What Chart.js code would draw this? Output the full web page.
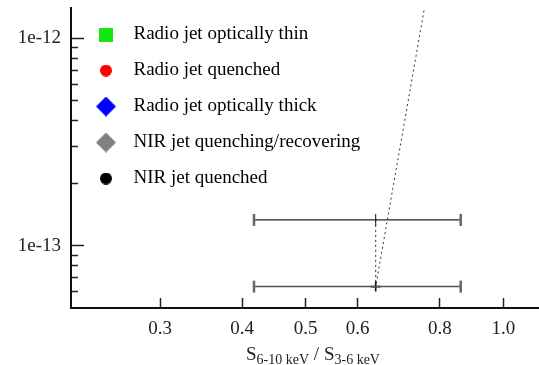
<!DOCTYPE html>
<html lang="en">
<head>
<meta charset="UTF-8">
<title>Hardness ratio vs flux</title>
<script src="https://cdn.jsdelivr.net/npm/chart.js"></script>
<style>
    body { margin: 0; background: #fff; }
    #wrap { position: relative; width: 539px; height: 365px; }
    #xTitle {
        position: absolute;
        left: 313px;
        top: 344px;
        transform: translateX(-50%);
        font: 19px "Liberation Serif", "Times New Roman", serif;
        line-height: 1;
        color: #222;
        white-space: nowrap;
    }
    #xTitle sub { font-size: 14px; vertical-align: -4px; line-height: 0; }
</style>
</head>
<body>
<div id="wrap">
    <canvas id="ratioChart"></canvas>
    <div id="xTitle">S<sub>6-10 keV</sub> / S<sub>3-6 keV</sub></div>
</div>

<script>
// hardness ratio S(6-10 keV)/S(3-6 keV) with its range, against flux
const ratio   = [0.639, 0.639];
const ratioLo = [0.417, 0.417];
const ratioHi = [0.861, 0.861];
const flux    = [1.33e-13, 6.34e-14];

// dotted track joining the epochs; the last one is off the top of the plot
const trackRatio = [0.639, 0.639, 0.845];
const trackFlux  = [1.33e-13, 6.34e-14, 1e-11];

const xTicks = [0.3, 0.4, 0.5, 0.6, 0.8, 1.0];
const yTicks = [6e-14, 7e-14, 8e-14, 9e-14, 1e-13, 2e-13, 3e-13, 4e-13, 5e-13,
                6e-13, 7e-13, 8e-13, 9e-13, 1e-12];

const legendNames  = ['Radio jet optically thin', 'Radio jet quenched', 'Radio jet optically thick',
                      'NIR jet quenching/recovering', 'NIR jet quenched'];
const legendShapes = ['square', 'circle', 'diamond', 'diamond', 'circle'];
const legendColors = ['#14e614', '#ff0000', '#0000ff', '#808080', '#000000'];

// style bits
const markerSize = { square: 14, circle: 12, diamond: 20 };
const barColor = ['#222', '#555'];
const barWidth = [1.2, 1.5];

const FONT = '"Liberation Serif", "Times New Roman", serif';
Chart.defaults.font.family = FONT;
Chart.defaults.font.size = 19;
Chart.defaults.color = '#222';

// little canvases used as legend symbols (Chart.js draws them with drawImage)
function marker(shape, color) {
    const s = markerSize[shape];
    const c = document.createElement('canvas');
    c.width = c.height = s;
    const g = c.getContext('2d');
    const h = s / 2;
    g.fillStyle = color;
    g.beginPath();
    if (shape === 'circle') {
        g.arc(h, h, h, 0, Math.PI * 2);
    } else if (shape === 'diamond') {
        g.moveTo(h, 0); g.lineTo(s, h); g.lineTo(h, s); g.lineTo(0, h); g.closePath();
    } else {
        g.rect(0, 0, s, s);
    }
    g.fill();
    return c;
}

const isDecade = v => Math.abs(Math.log10(v) - Math.round(Math.log10(v))) < 1e-6;

// a 'chartArea' legend starts at the canvas top; line it up with the plot instead
const legendToPlotTop = {
    id: 'legendToPlotTop',
    afterLayout(chart) {
        if (chart.legend) chart.legend.top = chart.chartArea.top;
    }
};

const datasets = [];

// horizontal ranges with end caps
ratio.forEach((r, i) => {
    datasets.push({
        data: [{ x: ratioLo[i], y: flux[i] }, { x: ratioHi[i], y: flux[i] }],
        showLine: true,
        borderColor: barColor[i],
        borderWidth: barWidth[i],
        pointStyle: 'line',
        pointRotation: 90,
        pointRadius: 6,
        pointBorderWidth: 2.5,
        pointBorderColor: '#666'
    });
});

// centre marks
datasets.push({
    data: ratio.map((x, i) => ({ x, y: flux[i] })),
    showLine: false,
    pointStyle: ['line', 'cross'],
    pointRotation: [90, 0],
    pointRadius: [6, 5],
    pointBorderWidth: [1, 1.6],
    pointBorderColor: '#111'
});

datasets.push({
    data: trackRatio.map((x, i) => ({ x, y: trackFlux[i] })),
    showLine: true,
    borderColor: '#333',
    borderWidth: 1,
    borderDash: [2, 3],
    pointRadius: 0
});

new Chart(document.getElementById('ratioChart'), {
    type: 'scatter',
    data: { datasets },
    plugins: [legendToPlotTop],
    options: {
        responsive: true,
        maintainAspectRatio: false,
        animation: false,
        events: [],
        layout: { autoPadding: false, padding: { top: 8, right: 0, bottom: 0, left: 0 } },
        plugins: {
            tooltip: { enabled: false },
            legend: {
                position: 'chartArea',
                align: 'start',
                onClick: null,
                labels: {
                    usePointStyle: true,
                    pointStyleWidth: 36,
                    padding: 17,
                    color: '#222',
                    font: { size: 19 },
                    generateLabels: () => legendNames.map((text, i) => ({
                        text,
                        pointStyle: marker(legendShapes[i], legendColors[i]),
                        fillStyle: legendColors[i],
                        strokeStyle: legendColors[i],
                        lineWidth: 0,
                        hidden: false
                    }))
                }
            }
        },
        scales: {
            x: {
                type: 'logarithmic',
                min: 0.2195,
                max: 1.133,
                afterBuildTicks: s => { s.ticks = xTicks.map(value => ({ value })); },
                afterFit: s => { s.height = 57; s.paddingLeft = 0; s.paddingRight = 0; },
                border: { color: '#111', width: 2 },
                grid: { drawOnChartArea: false, tickLength: -10, tickWidth: 1.5, tickColor: '#222' },
                ticks: {
                    autoSkip: false,
                    maxRotation: 0,
                    padding: 20,
                    callback: v => v.toFixed(1)
                }
            },
            y: {
                type: 'logarithmic',
                min: 5e-14,
                max: 1.4e-12,
                afterBuildTicks: s => { s.ticks = yTicks.map(value => ({ value })); },
                afterFit: s => { s.width = 71; s.paddingTop = 0; s.paddingBottom = 0; },
                border: { color: '#111', width: 2 },
                grid: {
                    drawOnChartArea: false,
                    tickLength: -13,
                    tickWidth: 1.5,
                    tickColor: '#222',
                    // minor ticks: only the half next to the axis
                    tickBorderDash: ctx => (ctx.tick && isDecade(ctx.tick.value)) ? [] : [0, 6, 20]
                },
                ticks: {
                    autoSkip: false,
                    padding: 23,
                    callback: v => isDecade(v) ? v.toExponential(0) : ''
                }
            }
        }
    }
});
</script>
</body>
</html>
